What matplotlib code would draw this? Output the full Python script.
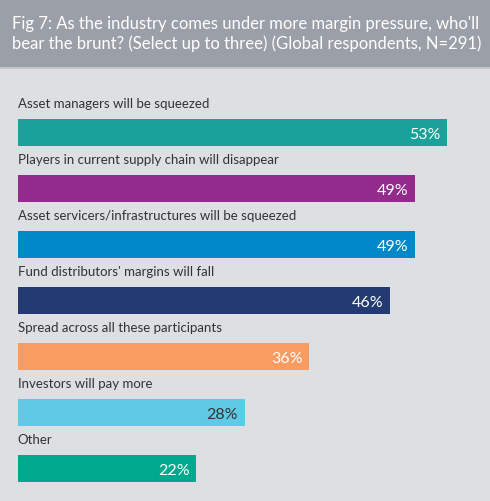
import matplotlib
matplotlib.use("Agg")
import matplotlib.pyplot as plt
from matplotlib.patches import Rectangle

labels = ["Asset managers will be squeezed",
          "Players in current supply chain will disappear",
          "Asset servicers/infrastructures will be squeezed",
          "Fund distributors' margins will fall",
          "Spread across all these participants",
          "Investors will pay more",
          "Other"]
values = [53, 49, 49, 46, 36, 28, 22]
colors = ["#1aa19a", "#922b8c", "#0088c8", "#233a72", "#f89c62", "#5fcae6", "#00a88d"]
value_colors = ["white", "white", "white", "white", "white", "#333333", "white"]

title = ("Fig 7: As the industry comes under more margin pressure, who'll\n"
         "bear the brunt? (Select up to three) (Global respondents, N=291)")

bg = "#dedfe3"
plt.rcParams['font.family'] = ['Lato', 'DejaVu Sans']

fig = plt.figure(figsize=(4.9, 5.02), dpi=100, facecolor=bg)
ax = fig.add_axes([0, 0, 1, 1])
ax.set_facecolor(bg)

pos = list(range(len(values)))
ax.barh(pos, values, height=0.49, color=colors, left=0)

for i in pos:
    ax.text(0, i - 0.52, labels[i], ha="left", va="center", fontsize=9.5, color="#333333")
    ax.text(values[i] - 0.8, i + 0.02, f"{values[i]}%", ha="right", va="center",
            fontsize=11.5, color=value_colors[i], fontweight="normal")

ax.set_xlim(-2.2, 58.3)
ax.set_ylim(6.58, -2.384)
ax.axis("off")

# header band
fig.patches.append(Rectangle((0, 1 - 68/502), 1, 68/502, transform=fig.transFigure,
                             facecolor="#9b9fa7", edgecolor="none", zorder=5))
fig.patches.append(Rectangle((0, 1 - 70/502), 1, 2/502, transform=fig.transFigure,
                             facecolor="#c4c6cb", edgecolor="none", zorder=5))
fig.text(12/490, 1 - 34/502, title, ha="left", va="center", color="white",
         fontsize=12, linespacing=1.25, zorder=6)

fig.savefig("out.png", dpi=100, facecolor=bg)
